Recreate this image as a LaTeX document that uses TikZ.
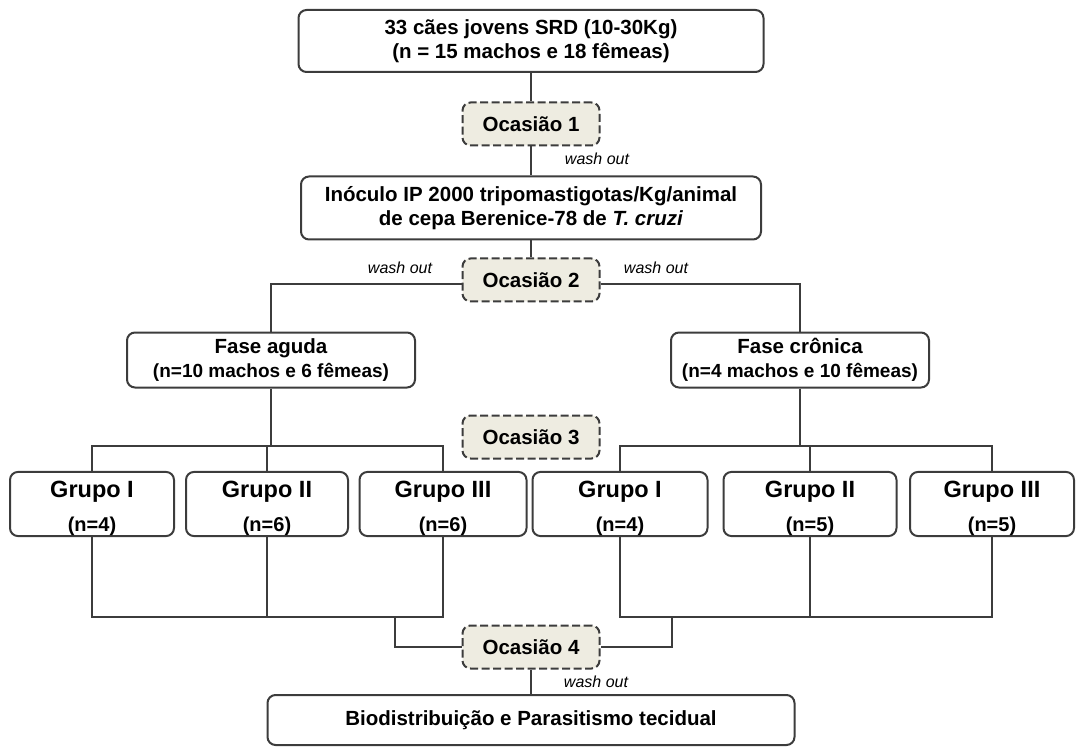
\documentclass[tikz,border=0pt]{standalone}
\usepackage{fontspec}
\setmainfont{Liberation Sans}
\definecolor{ocfill}{HTML}{EEECE1}
\definecolor{lnclr}{HTML}{3C3C3C}
\begin{document}
\begin{tikzpicture}[x=1pt,y=-1pt,
  box/.style={draw=lnclr,line width=2pt,rounded corners=8pt,align=center,inner sep=0pt,font=\bfseries\fontsize{20.5}{24}\selectfont},
  occ/.style={box,fill=ocfill,dash pattern=on 8pt off 3.5pt,minimum width=137pt,minimum height=43pt},
  grp/.style={box,minimum height=60pt,font=\bfseries\fontsize{23.5}{29}\selectfont},
  conn/.style={draw=lnclr,line width=1.8pt},
  wash/.style={font=\itshape\fontsize{16}{18}\selectfont}]
\useasboundingbox (0,0) rectangle (1076,751);
\node[box,minimum width=465pt,minimum height=62pt] (dogs) at (531,41) {33 cães jovens SRD (10-30Kg)\\(n = 15 machos e 18 fêmeas)};
\node[occ] (oc1) at (531,124) {Ocasião 1};
\node[box,minimum width=460pt,minimum height=63pt] (inoc) at (531,208) {Inóculo IP 2000 tripomastigotas/Kg/animal\\de cepa Berenice-78 de \textit{T. cruzi}};
\node[occ] (oc2) at (531,280) {Ocasião 2};
\node[box,minimum width=288pt,minimum height=55pt] (aguda) at (271,360) {Fase aguda\\{\fontsize{19}{24}\selectfont(n=10 machos e 6 fêmeas)}};
\node[box,minimum width=258pt,minimum height=55pt] (cronica) at (800,360) {Fase crônica\\{\fontsize{19}{24}\selectfont(n=4 machos e 10 fêmeas)}};
\node[occ] (oc3) at (531,437) {Ocasião 3};
\node[grp,minimum width=164pt] (ga1) at (92,504) {\rule{0pt}{26pt}Grupo I\\[5pt]{\fontsize{20}{24}\selectfont(n=4)}};
\node[grp,minimum width=162pt] (ga2) at (267,504) {\rule{0pt}{26pt}Grupo II\\[5pt]{\fontsize{20}{24}\selectfont(n=6)}};
\node[grp,minimum width=167pt] (ga3) at (443,504) {\rule{0pt}{26pt}Grupo III\\[5pt]{\fontsize{20}{24}\selectfont(n=6)}};
\node[grp,minimum width=175pt] (gc1) at (620,504) {\rule{0pt}{26pt}Grupo I\\[5pt]{\fontsize{20}{24}\selectfont(n=4)}};
\node[grp,minimum width=173pt] (gc2) at (810,504) {\rule{0pt}{26pt}Grupo II\\[5pt]{\fontsize{20}{24}\selectfont(n=5)}};
\node[grp,minimum width=164pt] (gc3) at (992,504) {\rule{0pt}{26pt}Grupo III\\[5pt]{\fontsize{20}{24}\selectfont(n=5)}};
\node[occ] (oc4) at (531,647) {Ocasião 4};
\node[box,minimum width=527pt,minimum height=50pt] (bio) at (531,720) {Biodistribuição e Parasitismo tecidual};
\node[wash] (w1) at (597,159) {wash out};
\node[wash] (w2) at (400,268) {wash out};
\node[wash] (w3) at (656,268) {wash out};
\node[wash] (w4) at (596,682) {wash out};
\coordinate (ta) at (0,446);
\coordinate (ba) at (0,617);
\coordinate (ma) at (395,617);
\coordinate (mc) at (672,617);
\draw[conn] (dogs) -- (oc1);
\draw[conn] (oc1) -- (inoc);
\draw[conn] (inoc) -- (oc2);
\draw[conn] ([yshift=-4pt]oc2.west) -| (aguda.north);
\draw[conn] ([yshift=-4pt]oc2.east) -| (cronica.north);
\draw[conn] (aguda.south) -- (aguda.south |- ta);
\draw[conn] (ga1.north) |- (ga3.north |- ta) -- (ga3.north);
\draw[conn] (ga2.north) -- (ga2.north |- ta);
\draw[conn] (cronica.south) -- (cronica.south |- ta);
\draw[conn] (gc1.north) |- (gc3.north |- ta) -- (gc3.north);
\draw[conn] (gc2.north) -- (gc2.north |- ta);
\draw[conn] (ga1.south) |- (ga3.south |- ba) -- (ga3.south);
\draw[conn] (ga2.south) -- (ga2.south |- ba);
\draw[conn] (gc1.south) |- (gc3.south |- ba) -- (gc3.south);
\draw[conn] (gc2.south) -- (gc2.south |- ba);
\draw[conn] (ma) |- (oc4.west);
\draw[conn] (mc) |- (oc4.east);
\draw[conn] (oc4) -- (bio);
\end{tikzpicture}
\end{document}
